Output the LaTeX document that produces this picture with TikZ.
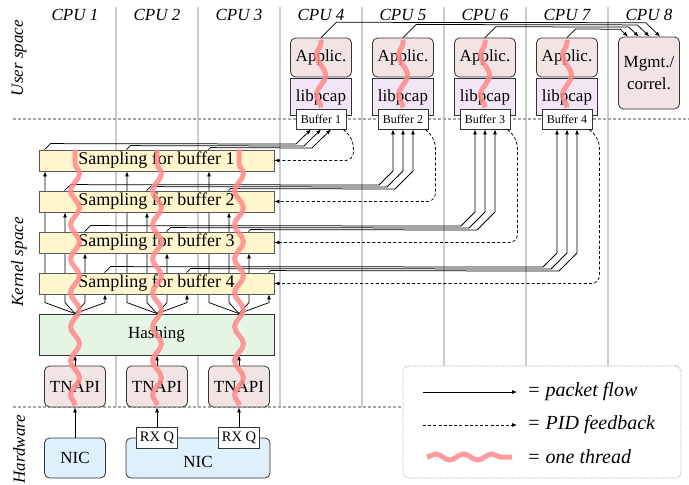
\documentclass[tikz,border=0pt]{standalone}
\usepackage{fontspec}
\setmainfont{Liberation Serif}
\usetikzlibrary{arrows.meta, positioning, backgrounds, decorations.pathmorphing}
\definecolor{applPink}{RGB}{243,228,228}
\definecolor{pcapLilac}{RGB}{241,229,246}
\definecolor{sampYellow}{RGB}{255,246,206}
\definecolor{hashGreen}{RGB}{228,245,228}
\definecolor{nicBlue}{RGB}{222,240,252}
\definecolor{threadRed}{RGB}{255,138,138}
\definecolor{gridGray}{RGB}{204,204,204}
\definecolor{sepGray}{RGB}{165,165,165}

\begin{document}
\begin{tikzpicture}[
    x=1pt, y=-1pt,
    font=\fontsize{17}{22}\selectfont,
    box/.style={rectangle, draw=black!80, line width=0.8pt, inner sep=0pt, minimum width=61pt, minimum height=39pt, align=center},
    rbox/.style={box, rounded corners=5pt},
    sampbox/.style={box, draw=black!65, fill=sampYellow, minimum width=235pt, minimum height=21pt, font=\fontsize{18}{20}\selectfont},
    bufbox/.style={box, fill=white, minimum width=50pt, minimum height=20pt, font=\fontsize{12}{14}\selectfont},
    rxbox/.style={box, fill=white, minimum width=41pt, minimum height=21pt, font=\fontsize{14.5}{16}\selectfont},
    arrow/.style={-{Latex[length=5pt, width=4pt]}, line width=0.75pt},
    feedback/.style={arrow, dash pattern=on 3pt off 2.2pt, rounded corners=8pt},
    thread/.style={threadRed, opacity=0.85, line width=5pt, decorate, decoration={snake, amplitude=4.5pt, segment length=34pt}},
    itlabel/.style={font=\fontsize{17}{19}\selectfont\itshape, inner sep=0pt},
    legtext/.style={font=\fontsize{20}{22}\selectfont\itshape, anchor=west, inner sep=0pt}
]
\useasboundingbox (0,0) rectangle (689,485);

% CPU columns and layer separators
\begin{scope}[on background layer]
    \foreach \i in {1,...,7}
        \draw[gridGray, line width=1.2pt] ({34+82*\i},7) -- ({34+82*\i},407);
    \draw[sepGray, line width=2.5pt, dash pattern=on 2.5pt off 2.5pt] (13,119) -- (689,119);
    \draw[sepGray, line width=2.5pt, dash pattern=on 2.5pt off 2.5pt] (13,407) -- (403,407);
\end{scope}

\foreach \i in {1,...,8}
    \node[itlabel] (cpu\i) at ({75+82*(\i-1)},15) {CPU \i};
\node[itlabel, rotate=90] (userlbl) at (19,58) {User space};
\node[itlabel, rotate=90] (kernlbl) at (19,262) {Kernel space};
\node[itlabel, rotate=90] (hwlbl) at (19,449) {Hardware};

% user space
\foreach \i/\b in {4/1,5/2,6/3,7/4} {
    \node[rbox, fill=applPink] (app\i) at ({75+82*(\i-1)},57.5) {Applic.};
    \node[box, fill=pcapLilac, minimum height=37pt, below=1pt of app\i] (pcap\i) {libpcap};
    \node[bufbox] (buf\b) at ({75+82*(\i-1)},119) {Buffer \b};
}
\node[rbox, fill=applPink, minimum height=72pt] (mgmt) at (649,73) {Mgmt./\\correl.};

% kernel space
\foreach \k in {1,...,4}
    \node[sampbox] (samp\k) at (156.5,{160.5+41*(\k-1)}) {Sampling for buffer \k};
\node[box, fill=hashGreen, minimum width=235pt, minimum height=41pt] (hash) at (156.5,334.5) {Hashing};
\foreach \j in {1,2,3}
    \node[rbox, fill=applPink, minimum height=41pt] (tnapi\j) at ({75+82*(\j-1)},386.5) {TNAPI};

% hardware
\node[rbox, fill=nicBlue, minimum height=40pt] (nic1) at (75,458) {NIC};
\node[rbox, fill=nicBlue, minimum width=144pt, minimum height=40pt, text height=19pt] (nic2) at (198,458) {NIC};
\node[rxbox] (rxq2) at (157,437.5) {RX Q};
\node[rxbox] (rxq3) at (239,437.5) {RX Q};

\draw[arrow] (nic1) -- (tnapi1);
\draw[arrow] (rxq2) -- (tnapi2);
\draw[arrow] (rxq3) -- (tnapi3);
\foreach \j in {1,2,3}
    \draw[arrow] (tnapi\j) -- (hash.south -| tnapi\j);

% hashing fans out to the four samplers
\begin{scope}[on background layer]
    \foreach \j in {1,2,3}
        \foreach \k in {1,...,4}
            \draw[arrow] (hash.north -| tnapi\j) -- ++({-30+20*(\k-1)},-11) coordinate (fan\j\k) -- (fan\j\k |- samp\k.south);
\end{scope}

% samplers to buffers
\foreach \j in {1,2,3} {
    \pgfmathsetmacro\rise{8-2*\j}
    \pgfmathsetmacro\offx{6+82*(\j-1)}
    \pgfmathsetmacro\bufx{321+10*(\j-2)}
    \draw[arrow] ([xshift=\offx pt]samp1.north west) -- ++(\rise,-\rise) -- ({\bufx-21+\rise},{150-\rise}) -- ([xshift={10*(\j-2)*1pt}]buf1.south);
    \foreach \k in {2,3,4} {
        \pgfmathsetmacro\topy{150+41*(\k-1)}
        \pgfmathsetmacro\bufx{321+82*(\k-1)+10*(\j-2)}
        \draw[arrow] ([xshift={(\offx+20*(\k-1))*1pt}]samp\k.north west) -- ++(\rise,-\rise) -- ({\bufx-20+\rise},{\topy-\rise}) -- (\bufx,{\topy-20}) -- ([xshift={10*(\j-2)*1pt}]buf\k.south);
    }
}
\foreach \k in {1,...,4}
    \draw[feedback] ([xshift=-3pt]buf\k.south east) -- ++(10,10) |- (samp\k.east);

% applications report to management
\foreach \i/\m in {4/0,5/1,6/2,7/3} {
    \pgfmathsetmacro\ly{22.7+2.2*\m}
    \pgfmathsetmacro\tipx{628+10.7*(3-\m)}
    \draw[arrow] (app\i.north) -- ++({38-\ly},{\ly-38}) -- ({\tipx-(37-\ly)},\ly) -- ([xshift={(\tipx-649)*1pt}]mgmt.north);
}

% threads
\foreach \j in {1,2,3}
    \draw[thread] ([yshift=2pt]tnapi\j.south) -- (samp1.north -| tnapi\j);
\foreach \i/\b in {4/1,5/2,6/3,7/4}
    \draw[thread, decoration={segment length=40pt}] ([yshift=1pt]buf\b.north) -- ([yshift=-2pt]app\i.north);

% legend
\node[draw=sepGray, densely dotted, line width=0.8pt, rounded corners=6pt, fill=white, minimum width=278pt, minimum height=112pt, inner sep=0pt] (legend) at (542,422) {};
\coordinate (pfA) at (423,392);
\coordinate (pfB) at (517,392);
\coordinate (fbA) at (423,425);
\coordinate (fbB) at (517,425);
\coordinate (thA) at (427,457);
\coordinate (thB) at (512,457);
\draw[arrow] (pfA) -- (pfB);
\draw[arrow, dash pattern=on 3pt off 2.2pt] (fbA) -- (fbB);
\draw[thread, decoration={amplitude=3pt, segment length=28pt}] (thA) -- (thB);
\node[legtext, right=10pt of pfB] (pflbl) {= packet flow};
\node[legtext, right=10pt of fbB] (fblbl) {= PID feedback};
\node[legtext, right=15pt of thB] (thlbl) {= one thread};
\end{tikzpicture}
\end{document}
